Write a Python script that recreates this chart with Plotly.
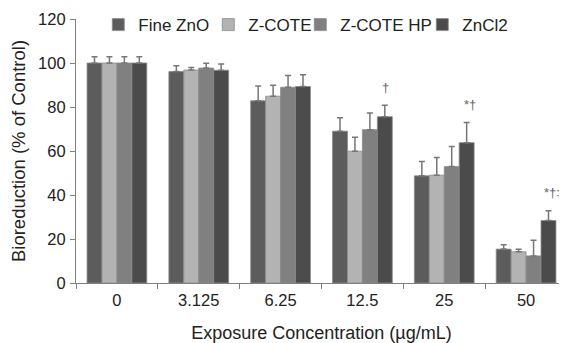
import plotly.graph_objects as go

categories = ["0", "3.125", "6.25", "12.5", "25", "50"]
series_names = ["Fine ZnO", "Z-COTE", "Z-COTE HP", "ZnCl2"]
fine_zno = [100, 96.1, 82.8, 69.0, 48.7, 15.4]
fine_zno_err = [2.8, 2.7, 6.8, 6.1, 6.5, 2.0]
z_cote = [100, 96.8, 84.9, 59.9, 49.0, 14.2]
z_cote_err = [2.8, 1.2, 5.0, 6.4, 8.0, 1.1]
z_cote_hp = [100, 97.7, 89.0, 69.7, 52.9, 12.3]
z_cote_hp_err = [2.8, 2.2, 5.3, 7.6, 9.1, 7.1]
zncl2 = [100, 96.7, 89.3, 75.6, 63.8, 28.4]
zncl2_err = [2.8, 2.9, 5.4, 5.2, 9.1, 4.4]
sig_categories = ["12.5", "25", "50"]
sig_labels = ["†", "*†", "*†‡"]

values = [fine_zno, z_cote, z_cote_hp, zncl2]
errors = [fine_zno_err, z_cote_err, z_cote_hp_err, zncl2_err]
colors = ["#5c5c5c", "#b3b3b3", "#808080", "#4b4b4b"]
legend_widths = [65, 47, 77, 50]

FONT = "Liberation Sans, Arial, sans-serif"
fig = go.Figure()
for name, v, e, c, lw in zip(series_names, values, errors, colors, legend_widths):
    fig.add_trace(go.Bar(
        x=categories, y=v, name=name, legendwidth=lw,
        marker=dict(color=c, line=dict(color="#8a8a8a", width=0.8)),
        error_y=dict(type="data", symmetric=False, array=e,
                     arrayminus=[0] * len(e), color="#777777",
                     thickness=1.5, width=3),
    ))

for cat, lab in zip(sig_categories, sig_labels):
    i = categories.index(cat)
    fig.add_annotation(
        x=i, y=zncl2[i] + zncl2_err[i], text=lab, showarrow=False,
        xshift=23 + 2.5 * (len(lab) - 1), yshift=18,
        font=dict(family=FONT, size=13, color="#666666"),
    )

# page body has an 8px default margin, so the figure is sized to fit the window
fig.update_layout(
    width=559, height=335,
    margin=dict(l=68, r=0, t=11, b=60, autoexpand=False),
    paper_bgcolor="white", plot_bgcolor="white",
    barmode="group", bargap=0.27, bargroupgap=0,
    font=dict(family=FONT, size=16, color="#222222"),
    showlegend=True,
    legend=dict(orientation="h", x=0.0454, xanchor="left", y=0.977,
                yanchor="middle", font=dict(size=17), itemwidth=30,
                bgcolor="rgba(0,0,0,0)", traceorder="normal"),
)
fig.update_xaxes(
    type="category", range=[-0.5, len(categories) - 0.5],
    showline=True, linecolor="#808080", linewidth=1.2,
    ticks="outside", tickson="boundaries", ticklen=5, tickcolor="#808080",
    tickfont=dict(size=16.5), ticklabelstandoff=2,
    title=dict(text="Exposure Concentration (µg/mL)", font=dict(size=18), standoff=20),
    showgrid=False, automargin=True,
)
fig.update_yaxes(
    range=[0, 120], dtick=20, showline=True, linecolor="#808080", linewidth=1.2,
    ticks="outside", ticklen=5, tickcolor="#808080",
    tickfont=dict(size=16.5), ticklabelstandoff=1,
    title=dict(text="Bioreduction (% of Control)", font=dict(size=18.5), standoff=11),
    showgrid=False, zeroline=False, automargin=True,
)
fig.write_html("out.html")
